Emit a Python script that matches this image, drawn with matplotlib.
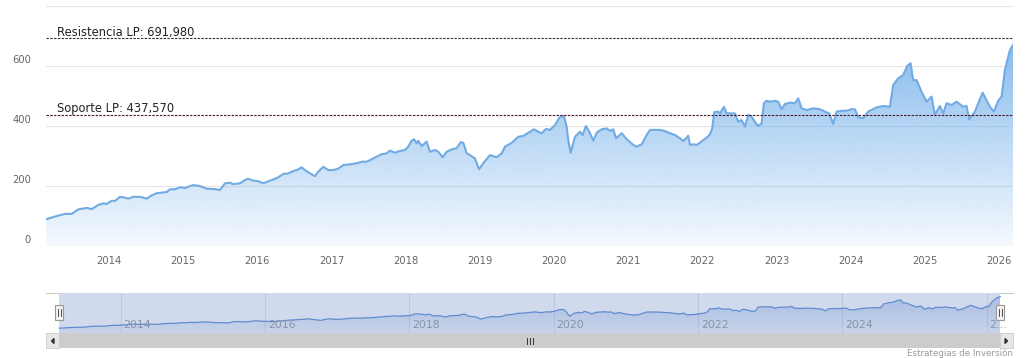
# Price history chart (area) with support / resistance levels and navigator strip

import numpy as np
import matplotlib.pyplot as plt
import matplotlib.colors as mcolors
import matplotlib.transforms as mtransforms
from matplotlib.patches import Rectangle, Polygon

# --- data (decimal years, price) ---
dates = [
    2013.150, 2013.295, 2013.407, 2013.497, 2013.586, 2013.699, 2013.767, 2013.856, 2013.923, 2013.969,
    2014.036, 2014.081, 2014.148, 2014.216, 2014.260, 2014.328, 2014.418, 2014.508, 2014.576, 2014.643,
    2014.711, 2014.778, 2014.822, 2014.890, 2014.957, 2015.025, 2015.092, 2015.137, 2015.227, 2015.317,
    2015.406, 2015.497, 2015.564, 2015.631, 2015.676, 2015.766, 2015.834, 2015.878, 2015.946, 2016.013,
    2016.080, 2016.171, 2016.261, 2016.350, 2016.418, 2016.485, 2016.531, 2016.598, 2016.643, 2016.710,
    2016.777, 2016.822, 2016.889, 2016.957, 2017.024, 2017.092, 2017.159, 2017.249, 2017.340, 2017.407,
    2017.474, 2017.542, 2017.609, 2017.677, 2017.744, 2017.789, 2017.856, 2017.923, 2017.991, 2018.035,
    2018.081, 2018.112, 2018.149, 2018.170, 2018.216, 2018.283, 2018.328, 2018.395, 2018.440, 2018.499,
    2018.553, 2018.621, 2018.688, 2018.742, 2018.777, 2018.823, 2018.867, 2018.935, 2018.989, 2019.047,
    2019.137, 2019.227, 2019.295, 2019.339, 2019.430, 2019.519, 2019.586, 2019.676, 2019.730, 2019.788,
    2019.834, 2019.892, 2019.946, 2020.013, 2020.081, 2020.135, 2020.171, 2020.193, 2020.225, 2020.283,
    2020.350, 2020.387, 2020.431, 2020.476, 2020.530, 2020.576, 2020.643, 2020.711, 2020.755, 2020.800,
    2020.836, 2020.913, 2020.980, 2021.069, 2021.115, 2021.182, 2021.250, 2021.294, 2021.429, 2021.496,
    2021.564, 2021.631, 2021.699, 2021.743, 2021.789, 2021.811, 2021.833, 2021.878, 2021.924, 2021.968,
    2022.013, 2022.059, 2022.103, 2022.134, 2022.161, 2022.215, 2022.238, 2022.292, 2022.328, 2022.396,
    2022.440, 2022.485, 2022.530, 2022.575, 2022.620, 2022.665, 2022.710, 2022.754, 2022.800, 2022.831,
    2022.868, 2022.912, 2022.980, 2023.024, 2023.070, 2023.114, 2023.182, 2023.249, 2023.294, 2023.339,
    2023.407, 2023.496, 2023.586, 2023.654, 2023.712, 2023.766, 2023.811, 2023.879, 2023.946, 2024.014,
    2024.058, 2024.103, 2024.170, 2024.237, 2024.351, 2024.440, 2024.530, 2024.575, 2024.642, 2024.709,
    2024.763, 2024.809, 2024.844, 2024.890, 2024.957, 2025.025, 2025.092, 2025.137, 2025.204, 2025.249,
    2025.294, 2025.362, 2025.429, 2025.518, 2025.564, 2025.599, 2025.676, 2025.780, 2025.878, 2025.932,
    2025.990, 2026.036, 2026.081, 2026.148, 2026.190,
]
values = [
    89, 100, 107, 107, 122, 127, 123, 137, 142, 140,
    151, 150, 164, 161, 158, 164, 164, 158, 169, 176,
    178, 180, 189, 189, 196, 193, 200, 203, 200, 191,
    190, 187, 209, 211, 206, 209, 220, 224, 218, 216,
    209, 218, 226, 240, 242, 250, 253, 262, 253, 242,
    233, 248, 264, 253, 253, 258, 270, 272, 276, 281,
    281, 289, 298, 306, 309, 318, 311, 317, 320, 331,
    351, 356, 342, 351, 333, 348, 314, 320, 314, 296,
    314, 322, 326, 346, 344, 309, 303, 292, 256, 276,
    303, 296, 309, 331, 344, 364, 367, 381, 389, 381,
    376, 390, 387, 403, 431, 433, 398, 353, 311, 364,
    381, 370, 400, 381, 351, 378, 389, 392, 384, 389,
    359, 376, 356, 337, 331, 339, 370, 387, 387, 383,
    376, 370, 359, 350, 361, 368, 337, 339, 337, 344,
    353, 361, 372, 392, 446, 448, 442, 464, 442, 442,
    442, 414, 420, 398, 437, 431, 414, 400, 409, 476,
    484, 481, 484, 481, 456, 473, 478, 476, 492, 459,
    453, 459, 456, 448, 442, 407, 448, 451, 451, 456,
    456, 429, 426, 448, 462, 467, 464, 537, 559, 570,
    600, 609, 553, 553, 514, 481, 498, 437, 467, 442,
    476, 470, 481, 464, 467, 422, 448, 511, 464, 448,
    484, 498, 587, 653, 670,
]

resistance = 691.980
support = 437.570
resistance_label = "Resistencia LP: 691,980"
support_label = "Soporte LP: 437,570"

y_ticks = [0, 200, 400, 600, 800]
x_ticks = list(range(2014, 2027))
nav_ticks = list(range(2014, 2027, 2))
nav_labels = ["2014", "2016", "2018", "2020", "2022", "2024", "2\u2026"]
credit = "Estrategias de Inversi\u00f3n"

W, H = 1033, 358
SERIES = "#7cb5ec"
LINE = "#72abe3"
NAV = "#5f8fd6"

x = np.array(dates)
y = np.array(values, dtype=float)


def gradient_area(ax, x, y, color, a_top, a_bot, top, zorder):
    poly = ax.fill_between(x, 0, y, facecolor="none", edgecolor="none")
    grad = np.zeros((256, 1, 4))
    grad[:, :, :3] = mcolors.to_rgb(color)
    grad[:, 0, 3] = np.linspace(a_bot, a_top, 256)
    im = ax.imshow(grad, aspect="auto", origin="lower",
                   extent=[x.min(), x.max(), 0, top], zorder=zorder,
                   interpolation="bilinear")
    im.set_clip_path(poly.get_paths()[0], transform=ax.transData)


fig = plt.figure(figsize=(W / 100, H / 100), dpi=100)
fig.patch.set_facecolor("white")

# --- main chart ---
ax = fig.add_axes([46 / W, 1 - 246 / H, 967 / W, 240 / H])
for s in ax.spines.values():
    s.set_visible(False)

for v in y_ticks[1:]:
    ax.axhline(v, color="#e6e6e6", lw=0.8, zorder=0)
ax.axhline(0, color="#ccd6eb", lw=0.8, zorder=0)

gradient_area(ax, x, y, SERIES, 0.9, 0.08, max(values), 1)
ax.plot(x, y, color=LINE, lw=1.5, zorder=3, solid_joinstyle="round")

ax.axhline(resistance, color="#333333", lw=0.8, dashes=(2.2, 1.2), zorder=4)
ax.axhline(support, color="#4a1628", lw=0.8, dashes=(2.2, 1.2), zorder=4)

blend = mtransforms.blended_transform_factory(ax.transAxes, ax.transData)
lab_tr = mtransforms.offset_copy(blend, fig=fig, x=11, y=2.5, units="dots")
ax.text(0, resistance, resistance_label, transform=lab_tr, fontsize=8.3,
        color="#222222", va="baseline", ha="left", zorder=5)
ax.text(0, support, support_label, transform=lab_tr, fontsize=8.3,
        color="#222222", va="baseline", ha="left", zorder=5)

ytr = mtransforms.offset_copy(blend, fig=fig, x=-15, y=6, units="dots")
for v in y_ticks[:-1]:
    ax.text(0, v, str(v), transform=ytr, fontsize=7.2, color="#666666",
            ha="right", va="center")

ax.set_xlim(dates[0], dates[-1])
ax.set_ylim(0, 800)
ax.set_yticks([])
ax.set_xticks(x_ticks)
ax.set_xticklabels([str(t) for t in x_ticks])
ax.tick_params(axis="x", length=0, pad=7.5, labelsize=7.2, labelcolor="#666666")

# --- navigator ---
nav = fig.add_axes([46 / W, 1 - 333 / H, 967 / W, 40 / H])
for s in nav.spines.values():
    s.set_visible(False)
nav.set_xticks([])
nav.set_yticks([])
for t in nav_ticks:
    nav.axvline(t, color="#e6e6e6", lw=0.8, zorder=0)
gradient_area(nav, x, y, NAV, 0.35, 0.08, max(values), 1)
nav.plot(x, y, color=NAV, lw=0.9, zorder=2)
for t, lab in zip(nav_ticks, nav_labels):
    nav.text(t, 0.2, lab, transform=mtransforms.offset_copy(
        mtransforms.blended_transform_factory(nav.transData, nav.transAxes),
        fig=fig, x=3, units="dots"), fontsize=7.8, color="#999999",
        ha="left", va="center", zorder=2)
nav.axvspan(dates[0], dates[-1], color=(102 / 255, 133 / 255, 194 / 255, 0.3),
            lw=0, zorder=3)
nav.set_xlim(2012.965, 2026.366)
nav.set_ylim(0, 738)

# --- pixel overlay for handles, outline, scrollbar ---
px = fig.add_axes([0, 0, 1, 1])
px.set_xlim(0, W)
px.set_ylim(H, 0)
px.axis("off")
px.patch.set_alpha(0)


def to_px(t):
    return nav.transData.transform((t, 0))[0]


xl, xr = to_px(dates[0]), to_px(dates[-1])

# outline along the unselected top edge
px.plot([46, xl], [293, 293], color="#cccccc", lw=0.8)
px.plot([xr, 1013], [293, 293], color="#cccccc", lw=0.8)

for hx in (xl, xr):
    px.add_patch(Rectangle((hx - 4, 305), 8, 15, facecolor="#f2f2f2",
                           edgecolor="#999999", lw=0.8, zorder=6))
    for dx in (-1.2, 1.2):
        px.plot([hx + dx, hx + dx], [309, 316], color="#333333", lw=0.6, zorder=7)

# scrollbar
px.add_patch(Rectangle((46, 333), 967, 15, facecolor="#f2f2f2", edgecolor="none"))
px.add_patch(Rectangle((xl, 333), xr - xl, 15, facecolor="#cccccc", edgecolor="none"))
px.add_patch(Rectangle((46, 333), 13, 15, facecolor="#e6e6e6", edgecolor="#cccccc", lw=0.6))
px.add_patch(Rectangle((1000, 333), 13, 15, facecolor="#e6e6e6", edgecolor="#cccccc", lw=0.6))
px.add_patch(Polygon([[54, 338.5], [54, 343.5], [51.5, 341]], closed=True, color="#333333"))
px.add_patch(Polygon([[1005, 338.5], [1005, 343.5], [1007.5, 341]], closed=True, color="#333333"))
mid = (xl + xr) / 2
for dx in (-3, 0, 3):
    px.plot([mid + dx, mid + dx], [338, 343.5], color="#333333", lw=0.7)

px.text(1013, 349, credit, ha="right", va="top", fontsize=6.3, color="#999999")

fig.savefig("out.png", dpi=100)
